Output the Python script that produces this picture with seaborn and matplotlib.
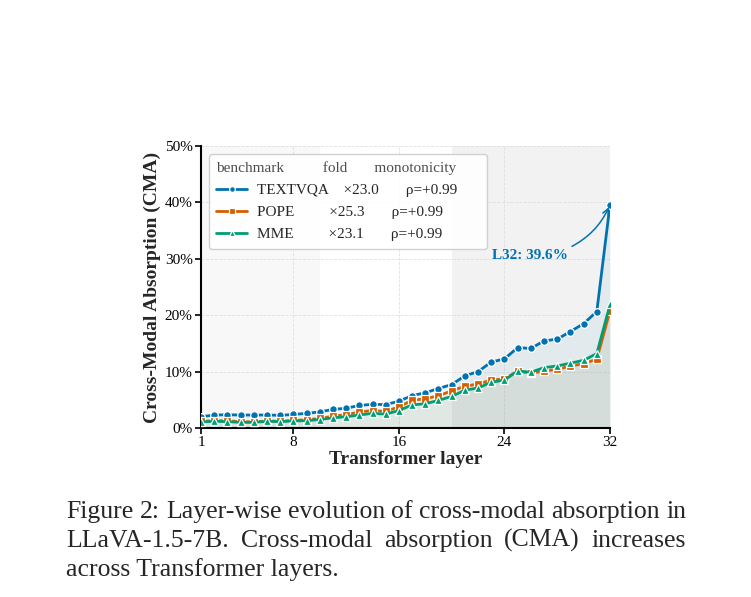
import matplotlib
matplotlib.use("Agg")
import matplotlib.pyplot as plt
import seaborn as sns
import pandas as pd

sns.set_theme(style="ticks")
plt.rcParams["font.family"] = ["Liberation Serif", "DejaVu Serif"]

# Données (CMA en %)
layers = list(range(1, 33))
textvqa = [2.0, 2.3, 2.35, 2.3, 2.3, 2.3, 2.25, 2.4, 2.6, 2.85, 3.3, 3.5,
           4.0, 4.2, 4.15, 4.75, 5.75, 6.25, 7.0, 7.7, 9.25, 10.0, 11.7, 12.25,
           14.25, 14.1, 15.45, 15.75, 17.1, 18.5, 20.65, 39.6]
pope = [1.2, 1.3, 1.3, 1.1, 1.1, 1.25, 1.2, 1.35, 1.45, 1.7, 2.1, 2.35,
        2.85, 3.1, 2.95, 3.75, 4.9, 5.2, 5.7, 6.6, 7.4, 7.8, 8.5, 8.7,
        10.1, 9.7, 10.1, 10.4, 11.0, 11.4, 12.2, 20.8]
mme = [1.07, 1.19, 1.13, 1.0, 1.0, 1.19, 1.13, 1.25, 1.3, 1.5, 1.8, 2.0,
       2.3, 2.6, 2.45, 3.1, 4.1, 4.3, 4.9, 5.6, 6.7, 7.1, 8.1, 8.5,
       10.1, 9.9, 10.7, 11.0, 11.5, 12.0, 13.2, 21.9]

names = ["TEXTVQA", "POPE", "MME"]
folds = ["×23.0", "×25.3", "×23.1"]
rhos = ["ρ=+0.99", "ρ=+0.99", "ρ=+0.99"]
gaps = ["    ", "         ", "         "]
colors = ["#0072B2", "#D55E00", "#009E73"]
markers = ["o", "s", "^"]
series = [textvqa, pope, mme]

fig = plt.figure(figsize=(7.51, 5.97), dpi=100)
ax = fig.add_axes([201 / 751, 1 - 428 / 597, 409 / 751, 282 / 597])

# bandes de fond
ax.axvspan(1, 10, color="0.5", alpha=0.055, lw=0, zorder=0)
ax.axvspan(20, 32, color="0.5", alpha=0.10, lw=0, zorder=0)

for name, fold, rho, gap, vals, col, mk in zip(names, folds, rhos, gaps, series, colors, markers):
    df = pd.DataFrame({"layer": layers, "cma": vals})
    ax.fill_between(layers, 0, vals, color=col, alpha=0.06, lw=0, zorder=1)
    sns.lineplot(data=df, x="layer", y="cma", ax=ax, color=col, lw=2.0,
                 marker=mk, markersize=5.5, markeredgecolor="white",
                 markeredgewidth=0.9, label=f"{name}{gap}{fold}       {rho}",
                 zorder=3)

ax.annotate("L32: 39.6%", xy=(32, textvqa[-1]), xytext=(25.9, 30.6),
            ha="center", va="center", fontsize=11, fontweight="bold",
            color=colors[0],
            arrowprops=dict(arrowstyle="->", color=colors[0], lw=1.1,
                            connectionstyle="arc3,rad=0.2",
                            relpos=(0.97, 0.95), shrinkA=1, shrinkB=2))

ax.set_xlim(1, 32)
ax.set_ylim(0, 50)
ax.set_xticks([1, 8, 16, 24, 32])
ax.set_yticks(range(0, 51, 10))
ax.set_yticklabels([f"{v}%" for v in range(0, 51, 10)])
ax.tick_params(labelsize=11, length=4, width=1.2, colors="black", pad=2)
ax.grid(True, ls="--", lw=0.6, color="0.85", alpha=0.8)
ax.set_axisbelow(True)
for s in ["top", "right"]:
    ax.spines[s].set_visible(False)
for s in ["left", "bottom"]:
    ax.spines[s].set_linewidth(1.5)
    ax.spines[s].set_color("black")
ax.set_xlabel("Transformer layer", fontsize=14, fontweight="bold", labelpad=1)
ax.set_ylabel("Cross-Modal Absorption (CMA)", fontsize=14, fontweight="bold", labelpad=3)

leg = ax.legend(title="benchmark          fold       monotonicity      ",
                loc="upper left", fontsize=11, title_fontsize=11,
                alignment="left", frameon=True, fancybox=True,
                framealpha=0.9, edgecolor="0.8", borderaxespad=0.5,
                labelspacing=0.55, markerscale=0.75, borderpad=0.5,
                handletextpad=0.65)
leg.get_title().set_color("0.3")

# légende de figure (texte justifié)
caption = [
    ("Figure 2: Layer-wise evolution of cross-modal absorption in", True),
    ("LLaVA-1.5-7B.  Cross-modal absorption (CMA) increases", True),
    ("across Transformer layers.", False),
]
left_px, right_px = 66, 686
baselines = [518, 547, 576]
fig.canvas.draw()
renderer = fig.canvas.get_renderer()
probe = fig.text(0, 0, caption[0][0], fontsize=10)
fsize = 10 * (right_px - left_px) / probe.get_window_extent(renderer).width
probe.remove()
for (line, justify), base in zip(caption, baselines):
    yb = 1 - base / 597
    if not justify:
        fig.text(left_px / 751, yb, line, fontsize=fsize, va="baseline")
        continue
    words = line.split()
    arts = [fig.text(0, yb, w, fontsize=fsize, va="baseline") for w in words]
    widths = [a.get_window_extent(renderer).width for a in arts]
    space = (right_px - left_px - sum(widths)) / (len(words) - 1)
    x = left_px
    for a, w in zip(arts, widths):
        a.set_x(x / 751)
        x += w + space

fig.savefig("out.png", dpi=100)
